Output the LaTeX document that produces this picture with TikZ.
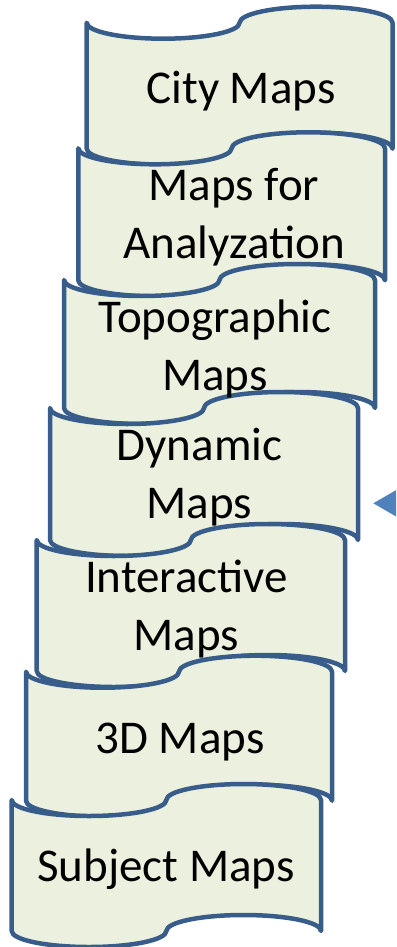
\documentclass[tikz,border=0pt]{standalone}
\usepackage{fontspec}
\setmainfont{Carlito}
\definecolor{tapeline}{HTML}{385D8A}
\definecolor{tapefill}{HTML}{EBF1DE}
\definecolor{markblue}{HTML}{4F81BD}
% punched-tape outline: #1 left x, #2 top y, #3 width, #4 height
\newcommand\tapepath[4]{%
  (#1,#2) arc[start angle=180,end angle=0,x radius=#3/4,y radius=16]
  arc[start angle=180,end angle=360,x radius=#3/4,y radius=16]
  -- ++(0,#4)
  arc[start angle=0,end angle=-180,x radius=#3/4,y radius=16]
  arc[start angle=0,end angle=180,x radius=#3/4,y radius=16]
  -- cycle}
\tikzset{
  tape/.style={draw=tapeline,fill=tapefill,line width=4.5pt,line join=round},
  tapetext/.style={anchor=base,align=center,inner sep=0pt,text=black,
    font=\fontsize{47}{57.5}\selectfont},
}
\begin{document}
\begin{tikzpicture}[x=1pt,y=-1pt]
\useasboundingbox (0,0) rectangle (396,947);
\clip (0,0) rectangle (396,947);
\path[tape] \tapepath{86.7}{22.7}{305.8}{126};
\path[tape] \tapepath{78.3}{148.3}{306.7}{132};
\path[tape] \tapepath{64}{280}{311}{128};
\path[tape] \tapepath{50}{408}{308}{132};
\path[tape] \tapepath{36.7}{540}{308.3}{131};
\path[tape] \tapepath{26}{671.7}{306}{129};
\path[tape] \tapepath{11.7}{800}{309.3}{131};
% anchor=base of a two-line node lies on its last line
\node[tapetext] (t1) at (241,103.3) {City Maps};
\node[tapetext] (t2) at (234,258.3) {Maps for\\Analyzation};
\node[tapetext] (t3) at (215,390) {Topographic\\Maps};
\node[tapetext] (t4) at (199.5,518.3) {Dynamic\\Maps};
\node[tapetext] (t5) at (186.5,650) {Interactive\\Maps};
\node[tapetext] (t6) at (180,753.3) {3D Maps};
\node[tapetext] (t7) at (166,881.7) {Subject Maps};
\fill[markblue] (373.3,503.3) -- (407.9,483.3) -- (407.9,523.3) -- cycle;
\end{tikzpicture}
\end{document}
